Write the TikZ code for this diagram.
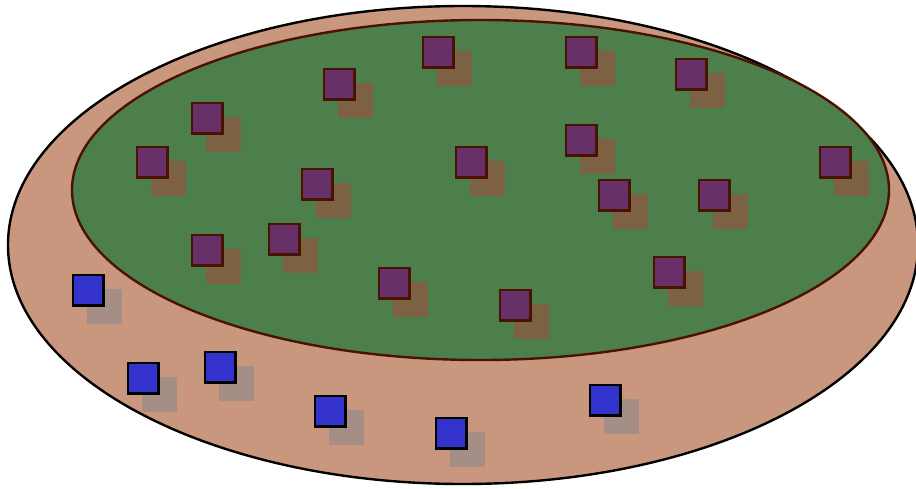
\documentclass[tikz,border=0pt]{standalone}
\usetikzlibrary{positioning}
\colorlet{soil}{rgb,255:red,201;green,150;blue,126}
\colorlet{field}{rgb,255:red,76;green,127;blue,76}
\colorlet{plant}{rgb,255:red,104;green,48;blue,104}
\colorlet{plantedge}{rgb,255:red,74;green,18;blue,0}
\colorlet{plantshadow}{rgb,255:red,124;green,97;blue,66}
\colorlet{stone}{rgb,255:red,51;green,51;blue,204}
\colorlet{stoneshadow}{rgb,255:red,165;green,142;blue,134}
\tikzset{
  cell/.style={draw, line width=2.6pt, minimum size=30.4pt, inner sep=0pt},
  shade/.style={minimum size=35pt, inner sep=0pt}
}

\begin{document}
\begin{tikzpicture}[x=1pt,y=-1pt]
        \useasboundingbox (0,0) rectangle (916,488);
        \draw[fill=soil, line width=2.4pt] (463,245) ellipse (455 and 239);
        \draw[fill=field, draw=plantedge, line width=2.4pt] (480.5,190) ellipse (408.5 and 170);
        % plants on the field
        \foreach \x/\y [count=\i] in {438/52,581/52,691/74,339/84,207/118,581/140,152/162,471/162,835/162,317/184,614/195,714/195,284/239,207/250,669/272,394/283,515/305}
        {
            \node[shade, fill=plantshadow] (ps\i) at (\x+16,\y+16) {};
            \node[cell, fill=plant, draw=plantedge] (p\i) at (\x,\y) {};
        }
        % stones on the soil
        \foreach \x/\y [count=\i] in {88/290,143/378,220/367,330/411,451/433,605/400}
        {
            \node[shade, fill=stoneshadow] (ss\i) at (\x+16,\y+16) {};
            \node[cell, fill=stone] (s\i) at (\x,\y) {};
        }
    \end{tikzpicture}
\end{document}
